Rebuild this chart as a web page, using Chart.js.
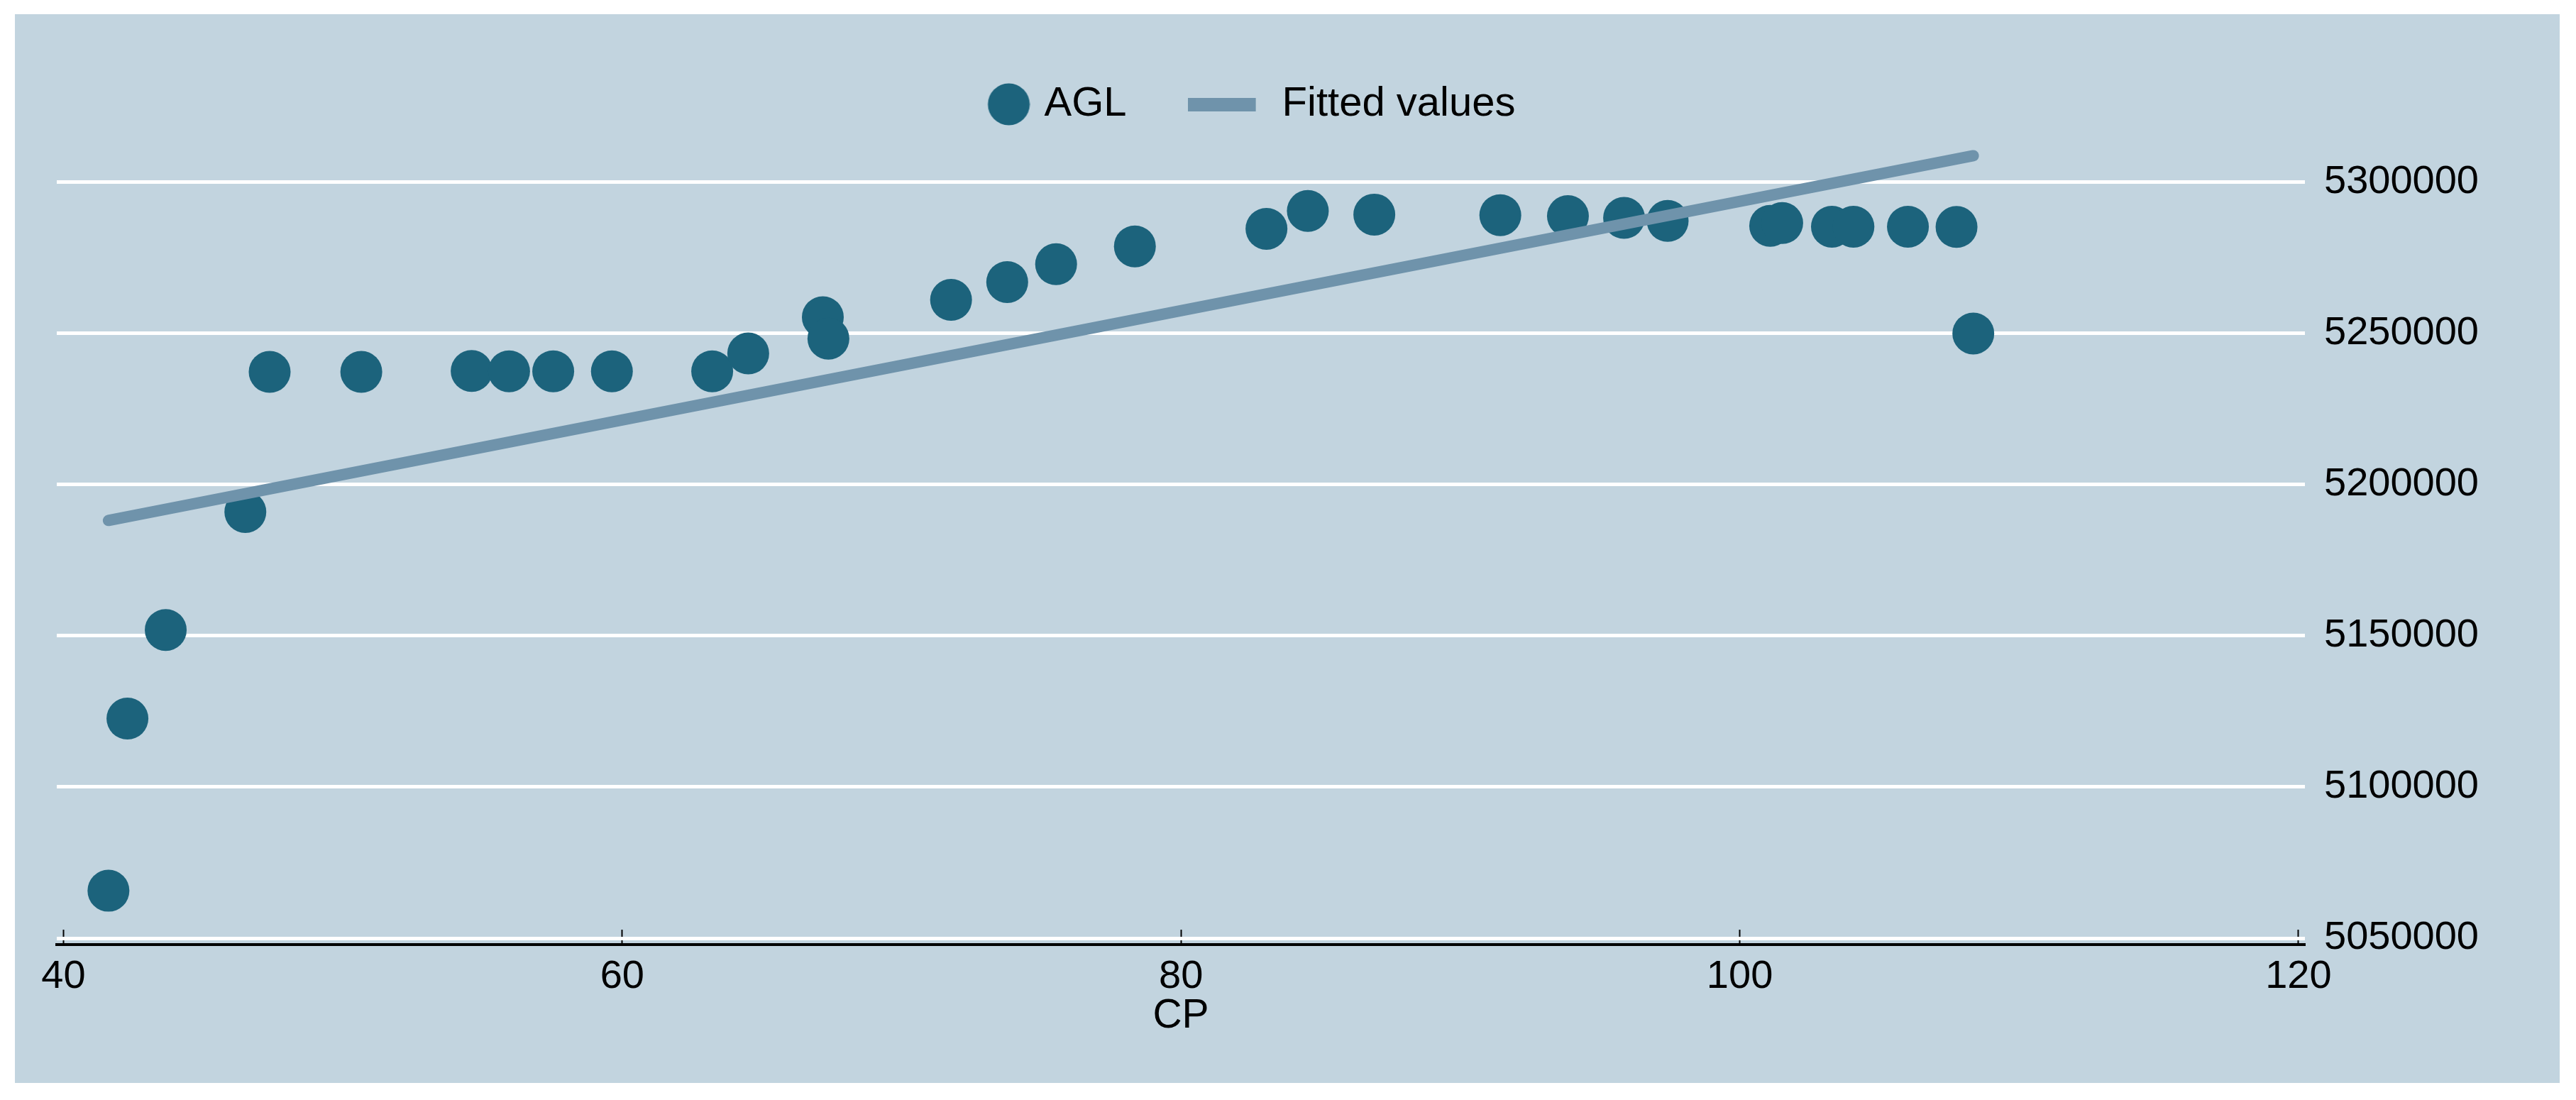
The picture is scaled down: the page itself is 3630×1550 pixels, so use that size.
<!DOCTYPE html>
<html>
<head>
<meta charset="utf-8">
<title>AGL vs CP</title>
<script src="https://cdn.jsdelivr.net/npm/chart.js@4.4.1/dist/chart.umd.min.js"></script>
<style>
  html, body { margin: 0; padding: 0; background: #fff; }
  #chart { display: block; }
</style>
</head>
<body>
<canvas id="chart" width="3630" height="1550" style="width:3630px;height:1550px"></canvas>
<script>
// values
const cp = [41.61, 42.29, 43.66, 46.51, 47.38, 50.66, 54.61, 55.95, 57.53, 59.63, 63.22, 64.51,
  67.18, 67.38, 71.77, 73.78, 75.53, 78.35, 83.06, 84.54, 86.92, 91.43, 93.85, 95.86,
  97.42, 101.09, 101.52, 103.30, 104.07, 106.02, 107.76, 108.36];
const agl = [5065700, 5122600, 5151900, 5190900, 5237200, 5237200, 5237500, 5237400, 5237400, 5237400, 5237400, 5243300,
  5255300, 5248200, 5261000, 5266900, 5272800, 5278700, 5284500, 5290400, 5289200, 5289000, 5288700, 5288100,
  5287100, 5285500, 5286400, 5285200, 5285200, 5285200, 5285100, 5249900];
const fitCp = [41.61, 108.36];
const fitAgl = [5188100, 5308650];
const xTicks = [40, 60, 80, 100, 120];
const yTicks = [5050000, 5100000, 5150000, 5200000, 5250000, 5300000];

const FONT = "'Liberation Sans', Arial, sans-serif";
const MARKER = '#1c637c';
const FITLINE = '#6f93ab';
const BG = '#c2d4df';

// legend swatches as small canvases (offset inside so the gaps match)
function swatch(w, h, draw) {
  const c = document.createElement('canvas');
  c.width = w; c.height = h;
  draw(c.getContext('2d'));
  return c;
}
const dotSwatch = swatch(96, 60, g => { g.fillStyle = MARKER; g.beginPath(); g.arc(66, 30, 29.5, 0, Math.PI * 2); g.fill(); });
const lineSwatch = swatch(130, 19, g => { g.fillStyle = FITLINE; g.fillRect(0, 0, 96, 19); });

const background = {
  id: 'background',
  beforeDraw(chart) {
    const ctx = chart.ctx;
    ctx.save();
    ctx.fillStyle = '#fff';
    ctx.fillRect(0, 0, chart.width, chart.height);
    ctx.fillStyle = BG;
    ctx.fillRect(21, 20, 3586, 1506);
    ctx.restore();
  }
};

const shiftLegend = {
  id: 'shiftLegend',
  afterLayout(chart) {
    chart.legend.left -= 105;
    chart.legend.right -= 105;
  }
};

document.addEventListener('DOMContentLoaded', function() {
  const ctx = document.getElementById('chart');
  const points = cp.map((x, i) => ({ x: x, y: agl[i] }));
  const fit = fitCp.map((x, i) => ({ x: x, y: fitAgl[i] }));

  new Chart(ctx.getContext('2d'), {
    type: 'scatter',
    data: {
      datasets: [
        { label: 'AGL', data: points, order: 1, pointRadius: 29.5, pointBorderWidth: 0, backgroundColor: MARKER, borderColor: MARKER },
        { label: 'Fitted values', data: fit, order: 0, showLine: true, pointRadius: 0, borderWidth: 16, borderColor: FITLINE, borderCapStyle: 'round', backgroundColor: FITLINE }
      ]
    },
    options: {
      responsive: false,
      devicePixelRatio: 1,
      animation: false,
      events: [],
      layout: { padding: { top: 6, left: 80, right: 0, bottom: 0 } },
      plugins: {
        tooltip: { enabled: false },
        legend: {
          display: true,
          position: 'top',
          maxHeight: 184,
          labels: {
            usePointStyle: true,
            pointStyleWidth: 78,
            boxHeight: 40,
            padding: 112,
            color: '#000',
            font: { family: FONT, size: 58 },
            generateLabels: () => [
              { text: 'AGL', pointStyle: dotSwatch, fillStyle: MARKER, strokeStyle: MARKER, lineWidth: 0, hidden: false, datasetIndex: 0, fontColor: '#000' },
              { text: 'Fitted values', pointStyle: lineSwatch, fillStyle: FITLINE, strokeStyle: FITLINE, lineWidth: 0, hidden: false, datasetIndex: 1, fontColor: '#000' }
            ]
          }
        }
      },
      scales: {
        x: {
          type: 'linear',
          position: 'bottom',
          min: 39.76,
          max: 120.23,
          afterBuildTicks: s => { s.ticks = xTicks.map(v => ({ value: v })); },
          afterFit: s => { s.height = 219; },
          ticks: { color: '#000', font: { family: FONT, size: 56 }, padding: 33, autoSkip: false, maxRotation: 0 },
          grid: { display: true, drawOnChartArea: false, drawTicks: true, tickLength: -21, tickWidth: 2, tickColor: '#000' },
          border: { display: true, color: '#000', width: 4 },
          title: { display: true, text: 'CP', color: '#000', font: { family: FONT, size: 57 }, padding: { top: 0, bottom: 84 } }
        },
        y: {
          type: 'linear',
          position: 'right',
          min: 5047900,
          max: 5316500,
          afterBuildTicks: s => { s.ticks = yTicks.map(v => ({ value: v })); },
          afterFit: s => { s.width = 382; },
          ticks: { color: '#000', font: { family: FONT, size: 56 }, padding: 27, callback: v => String(v) },
          grid: { color: '#fff', lineWidth: 5, drawTicks: false },
          border: { display: false }
        }
      }
    },
    plugins: [background, shiftLegend]
  });
});
</script>
</body>
</html>
